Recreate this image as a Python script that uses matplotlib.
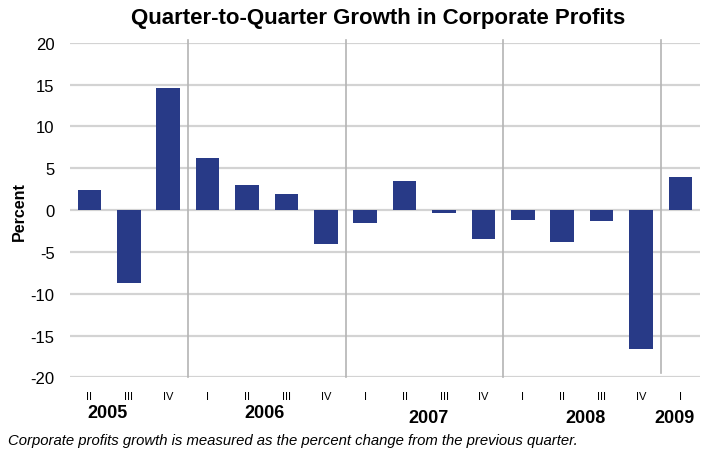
import matplotlib.pyplot as plt
import matplotlib.transforms as mtransforms

plt.rcParams['font.family'] = ['Liberation Sans', 'DejaVu Sans']
plt.rcParams['axes.unicode_minus'] = False

# quarterly growth, 2005 Q2 .. 2009 Q1
quarters = ['II', 'III', 'IV', 'I', 'II', 'III', 'IV', 'I', 'II', 'III', 'IV',
            'I', 'II', 'III', 'IV', 'I']
growth = [2.4, -8.7, 14.6, 6.2, 3.0, 1.9, -4.1, -1.6, 3.5, -0.3, -3.4,
          -1.2, -3.8, -1.3, -16.6, 3.9]
years = ['2005', '2006', '2007', '2008', '2009']
year_pos = [0.45, 4.45, 8.6, 12.6, 14.85]
year_sep = [2.5, 6.5, 10.5, 14.5]

fig = plt.figure(figsize=(7.05, 4.52), dpi=100)
ax = fig.add_axes([0.099, 0.163, 0.894, 0.74])

x = list(range(len(growth)))
ax.bar(x, growth, width=0.6, color='#283a87', zorder=3)

ax.set_ylim(-20, 20)
ax.set_xlim(-0.5, len(growth) - 0.5)
ax.set_yticks(range(-20, 21, 5))
ax.yaxis.grid(True, color='#d3d3d3', linewidth=1.6, zorder=0)
ax.tick_params(axis='y', length=0, labelsize=12, pad=11)
ax.set_xticks(x)
ax.set_xticklabels(quarters, fontsize=8)
ax.tick_params(axis='x', length=0, pad=10)
for s in ax.spines.values():
    s.set_visible(False)

for i, sx in enumerate(year_sep):
    bottom = -20 if i < 3 else -19.5
    ax.plot([sx, sx], [bottom, 20.3], color='#b4b4b4', linewidth=1.2,
            zorder=2, clip_on=False)

trans = mtransforms.blended_transform_factory(ax.transData, fig.transFigure)
for i, (yr, px) in enumerate(zip(years, year_pos)):
    yy = 0.086 if i < 2 else 0.075
    ax.text(px, yy, yr, transform=trans, ha='center', va='center',
            fontsize=13, fontweight='bold')

fig.text(0.027, 0.533, 'Percent', rotation=90, ha='center', va='center',
         fontsize=11.5, fontweight='bold')
fig.text(0.536, 0.958, 'Quarter-to-Quarter Growth in Corporate Profits',
         ha='center', va='center', fontsize=16, fontweight='bold')
fig.text(0.011, 0.025, 'Corporate profits growth is measured as the percent '
         'change from the previous quarter.', ha='left', va='center',
         fontsize=10.7, style='italic')

fig.savefig('out.png', dpi=100)
